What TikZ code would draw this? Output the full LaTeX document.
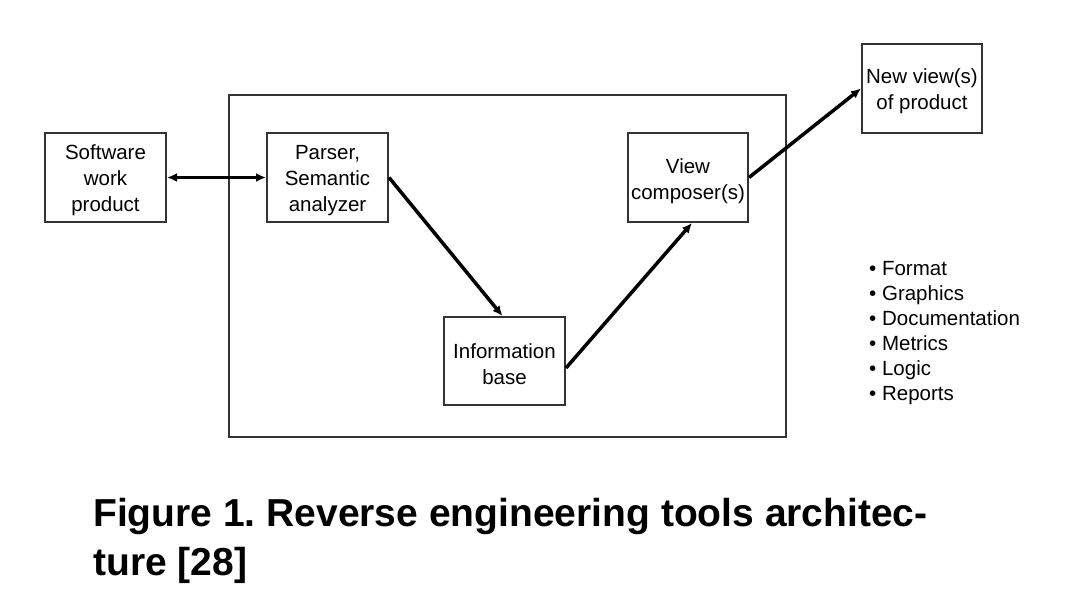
\documentclass[tikz,border=0pt]{standalone}
\usepackage{fontspec}
\setmainfont{Liberation Sans}
\usetikzlibrary{arrows.meta}
\frenchspacing
\newcommand\toppad{\rule{0pt}{20.5pt}}
\begin{document}
\begin{tikzpicture}[x=1pt,y=-1pt,
  box/.style={draw=black!80, line width=2pt, minimum width=121pt, minimum height=89pt, inner sep=0pt, align=center, font=\fontsize{20.5}{26}\selectfont},
  framebox/.style={draw=black!80, line width=2pt, inner sep=0pt},
  arr/.style={line width=3.5pt, -{Latex[length=10pt,width=9pt]}},
  listitem/.style={anchor=base west, inner sep=0pt, font=\fontsize{20.5}{25}\selectfont},
  captext/.style={anchor=base west, inner sep=0pt, font=\bfseries\fontsize{39}{49}\selectfont}]
\useasboundingbox (0,0) rectangle (1072,609);
\node[framebox, minimum width=557pt, minimum height=342pt] (frame) at (507.5,266) {};
\node[box] (sw) at (105.5,177.5) {\toppad Software\\work\\product};
\node[box] (parser) at (327.5,177.5) {\toppad Parser,\\Semantic\\analyzer};
\node[box, minimum width=120pt] (view) at (688,177.5) {\rule{0pt}{23pt}View\\composer(s)};
\node[box, minimum width=120pt] (new) at (922,88.5) {\toppad New view(s)\\of product};
\node[box, minimum height=88pt] (info) at (504.5,361) {\toppad Information\\base};
\draw[arr, {Latex[length=10pt,width=9pt]}-{Latex[length=10pt,width=9pt]}] (sw.east) -- (parser.west);
\draw[arr] (parser.east) -- ([xshift=-2pt]info.north);
\draw[arr] ([yshift=-7pt]info.east) -- ([xshift=4pt]view.south);
\draw[arr] (view.east) -- (new.west);
\node[listitem] (b1) at (869,276) {• Format};
\node[listitem] (b2) at (869,301) {• Graphics};
\node[listitem] (b3) at (869,326) {• Documentation};
\node[listitem] (b4) at (869,351) {• Metrics};
\node[listitem] (b5) at (869,376) {• Logic};
\node[listitem] (b6) at (869,401) {• Reports};
\node[captext] (c1) at (93,527) {Figure 1. Reverse engineering tools architec-};
\node[captext] (c2) at (93,576) {ture [28]};
\end{tikzpicture}
\end{document}
